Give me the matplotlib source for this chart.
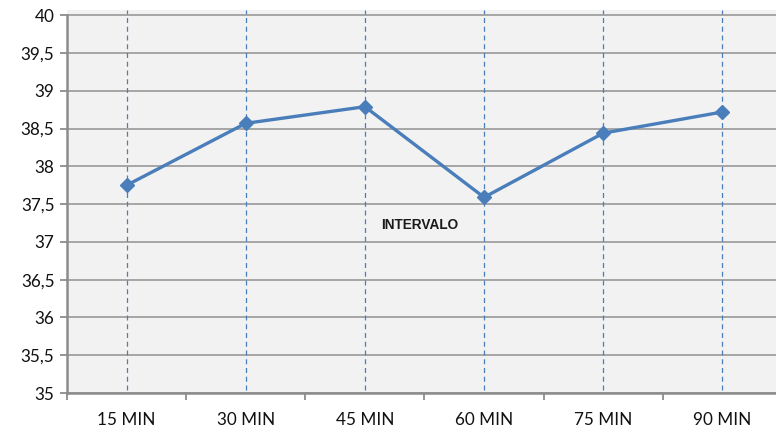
import matplotlib.pyplot as plt
from matplotlib.ticker import FixedLocator, FuncFormatter

# temperatura media por intervalo
intervalos = ["15 MIN", "30 MIN", "45 MIN", "60 MIN", "75 MIN", "90 MIN"]
temperatura = [37.75, 38.57, 38.79, 37.59, 38.44, 38.72]
y_ticks = [35, 35.5, 36, 36.5, 37, 37.5, 38, 38.5, 39, 39.5, 40]

azul = "#4a7ebb"
cinza = "#8c8c8c"

plt.rcParams["font.family"] = ["Lato", "DejaVu Sans"]

fig = plt.figure(figsize=(7.76, 4.32), dpi=100)
ax = fig.add_axes([67 / 776, 39 / 432, 715 / 776, 383 / 432])
ax.set_facecolor("#f2f2f2")

x = list(range(len(intervalos)))

# linhas verticais tracejadas em cada intervalo
for xi in x:
    ax.axvline(xi, ymin=0.008, ymax=1, color=azul, lw=0.9, ls=(0, (4, 3)), zorder=2)

ax.plot(x, temperatura, color=azul, lw=2.4, marker="D", markersize=7,
        markeredgecolor=azul, zorder=4)

ax.set_xlim(-0.5, len(intervalos) - 0.5)
ax.set_ylim(35, 40.07)

ax.yaxis.set_major_locator(FixedLocator(y_ticks))
ax.yaxis.set_major_formatter(FuncFormatter(lambda v, p: f"{v:g}".replace(".", ",")))
ax.grid(axis="y", color="#a0a0a0", lw=1.3, zorder=1)

ax.set_xticks(x)
ax.set_xticklabels(intervalos)
ax.set_xticks([i - 0.5 for i in range(len(intervalos) + 1)], minor=True)
ax.tick_params(axis="x", which="major", length=0, pad=14, labelsize=12.3, labelcolor="#111111")
ax.tick_params(axis="x", which="minor", length=5, width=1.3, color=cinza)
ax.tick_params(axis="y", length=5, width=1.3, color=cinza, pad=4, labelsize=12.3,
               labelcolor="#111111")

for s in ["top", "right"]:
    ax.spines[s].set_visible(False)
ax.spines["left"].set_color(cinza)
ax.spines["left"].set_linewidth(1.8)
ax.spines["left"].set_bounds(35, 40)
ax.spines["bottom"].set_color(cinza)
ax.spines["bottom"].set_linewidth(1.8)

ax.text(2.46, 37.23, "INTERVALO", fontsize=9.8, fontweight="bold",
        family=["Liberation Sans", "DejaVu Sans"], ha="center", va="center",
        color="#1a1a1a", zorder=5)

fig.savefig("out.png", dpi=100)
